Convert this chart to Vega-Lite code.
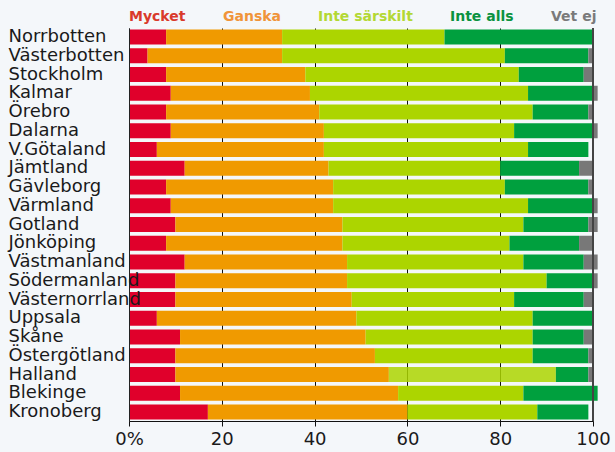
{
  "$schema": "https://vega.github.io/schema/vega-lite/v6.json",
  "width": 464,
  "height": 393,
  "autosize": "none",
  "padding": {"left": 129, "top": 28, "right": 22, "bottom": 31},
  "background": "#f4f7fa",
  "config": {"view": {"stroke": null}, "font": "DejaVu Sans"},
  "data": {
    "values": [
      {"region": "Norrbotten", "Mycket": 8, "Ganska": 25, "Inte särskilt": 35, "Inte alls": 32, "Vet ej": 0},
      {"region": "Västerbotten", "Mycket": 4, "Ganska": 29, "Inte särskilt": 48, "Inte alls": 18, "Vet ej": 1},
      {"region": "Stockholm", "Mycket": 8, "Ganska": 30, "Inte särskilt": 46, "Inte alls": 14, "Vet ej": 2},
      {"region": "Kalmar", "Mycket": 9, "Ganska": 30, "Inte särskilt": 47, "Inte alls": 14, "Vet ej": 1},
      {"region": "Örebro", "Mycket": 8, "Ganska": 33, "Inte särskilt": 46, "Inte alls": 12, "Vet ej": 1},
      {"region": "Dalarna", "Mycket": 9, "Ganska": 33, "Inte särskilt": 41, "Inte alls": 17, "Vet ej": 1},
      {"region": "V.Götaland", "Mycket": 6, "Ganska": 36, "Inte särskilt": 44, "Inte alls": 13, "Vet ej": 0},
      {"region": "Jämtland", "Mycket": 12, "Ganska": 31, "Inte särskilt": 37, "Inte alls": 17, "Vet ej": 3},
      {"region": "Gävleborg", "Mycket": 8, "Ganska": 36, "Inte särskilt": 37, "Inte alls": 18, "Vet ej": 1},
      {"region": "Värmland", "Mycket": 9, "Ganska": 35, "Inte särskilt": 42, "Inte alls": 14, "Vet ej": 1},
      {"region": "Gotland", "Mycket": 10, "Ganska": 36, "Inte särskilt": 39, "Inte alls": 14, "Vet ej": 2},
      {"region": "Jönköping", "Mycket": 8, "Ganska": 38, "Inte särskilt": 36, "Inte alls": 15, "Vet ej": 3},
      {"region": "Västmanland", "Mycket": 12, "Ganska": 35, "Inte särskilt": 38, "Inte alls": 13, "Vet ej": 3},
      {"region": "Södermanland", "Mycket": 10, "Ganska": 37, "Inte särskilt": 43, "Inte alls": 10, "Vet ej": 1},
      {"region": "Västernorrland", "Mycket": 10, "Ganska": 38, "Inte särskilt": 35, "Inte alls": 15, "Vet ej": 2},
      {"region": "Uppsala", "Mycket": 6, "Ganska": 43, "Inte särskilt": 38, "Inte alls": 13, "Vet ej": 0},
      {"region": "Skåne", "Mycket": 11, "Ganska": 40, "Inte särskilt": 36, "Inte alls": 11, "Vet ej": 2},
      {"region": "Östergötland", "Mycket": 10, "Ganska": 43, "Inte särskilt": 34, "Inte alls": 12, "Vet ej": 1},
      {"region": "Halland", "Mycket": 10, "Ganska": 46, "Inte särskilt": 36, "Inte alls": 7, "Vet ej": 1},
      {"region": "Blekinge", "Mycket": 11, "Ganska": 47, "Inte särskilt": 27, "Inte alls": 16, "Vet ej": 0},
      {"region": "Kronoberg", "Mycket": 17, "Ganska": 43, "Inte särskilt": 28, "Inte alls": 11, "Vet ej": 0}
    ]
  },
  "transform": [
    {"fold": ["Mycket", "Ganska", "Inte särskilt", "Inte alls", "Vet ej"], "as": ["category", "value"]},
    {"window": [{"op": "row_number", "as": "rank"}], "groupby": ["region"]}
  ],
  "layer": [
    {
      "mark": {"type": "bar"},
      "encoding": {
        "y": {
          "field": "region",
          "type": "nominal",
          "sort": null,
          "scale": {"paddingInner": 0.2, "paddingOuter": 0.08},
          "axis": {
            "title": null,
            "labelAlign": "left",
            "labelPadding": 121,
            "ticks": false,
            "domain": true,
            "domainColor": "#222222",
            "labelFontSize": 18,
            "labelColor": "#1a1a1a",
            "labelFont": "DejaVu Sans",
            "zindex": 1
          }
        },
        "x": {
          "field": "value",
          "type": "quantitative",
          "stack": "zero",
          "scale": {"domain": [0, 100], "nice": false},
          "axis": {
            "title": null,
            "values": [0, 20, 40, 60, 80, 100],
            "labelExpr": "datum.value === 0 ? '0%' : datum.label",
            "grid": true,
            "gridColor": "#111111",
            "gridWidth": 1,
            "domainColor": "#111111",
            "tickColor": "#111111",
            "tickSize": 5,
            "labelFontSize": 18,
            "labelColor": "#1a1a1a",
            "labelPadding": 4,
            "labelFlush": false,
            "labelFont": "DejaVu Sans"
          }
        },
        "order": {"field": "rank", "type": "quantitative"},
        "color": {
          "field": "category",
          "type": "nominal",
          "sort": ["Mycket", "Ganska", "Inte särskilt", "Inte alls", "Vet ej"],
          "scale": {
            "domain": ["Mycket", "Ganska", "Inte särskilt", "Inte alls", "Vet ej"],
            "range": ["#e0002b", "#f09a00", "#acd500", "#00a03e", "#787878"]
          },
          "legend": {
            "title": null,
            "orient": "none",
            "legendX": -14,
            "legendY": -18,
            "direction": "horizontal",
            "columns": 5,
            "symbolSize": 0.0001,
            "symbolOpacity": 0,
            "symbolStrokeWidth": 0,
            "labelOffset": 0.0001,
            "padding": 0,
            "columnPadding": 23,
            "labelFontSize": 14,
            "labelFontWeight": "bold",
            "labelFont": "DejaVu Sans",
            "labelColor": {"expr": "datum.value === 'Mycket' ? '#d93a2c' : datum.value === 'Ganska' ? '#f0943a' : datum.value === 'Inte särskilt' ? '#b3d834' : datum.value === 'Inte alls' ? '#0a9240' : '#7a7a7a'"}
          }
        },
        "opacity": {
          "condition": {"test": "datum.region === 'Halland' && datum.category === 'Inte särskilt'", "value": 0.85},
          "value": 1
        }
      }
    },
    {
      "mark": {"type": "rule", "color": "#444444", "strokeWidth": 1.5},
      "encoding": {"x": {"datum": 100}}
    }
  ]
}
